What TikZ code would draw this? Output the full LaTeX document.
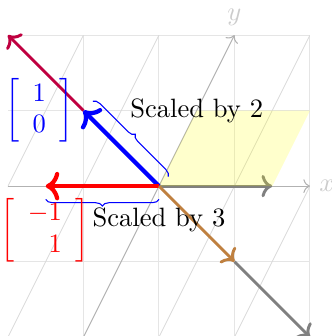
\documentclass[tikz,border=0pt]{standalone}
\usepackage{amsmath,amssymb}
\usepackage{xcolor}
\usepackage{tikz}
\usetikzlibrary{arrows.meta,decorations.pathreplacing}
\definecolor{cEigA}{HTML}{0000FF}
\definecolor{cEigB}{HTML}{FF0000}
\definecolor{cImgA}{HTML}{BF0040}
\definecolor{cImgB}{HTML}{BF8040}
\definecolor{cBase}{HTML}{808080}
\definecolor{cArea}{HTML}{FFFF00}
\tikzset{
  gridln/.style = {draw=gray!20, line width=0.4pt},
  skewln/.style = {draw=gray!30, line width=0.3pt},
  axis/.style   = {-{To}, draw=gray!60, line width=0.4pt},
  axlab/.style  = {text=gray!40},
  vec/.style    = {-{To}, draw=#1, line width=1.6pt},
  vec/.default  = cBase,
  img/.style    = {-{To}, draw=#1, line width=1.1pt},
  brc/.style    = {decorate, decoration={brace, raise=5pt}, draw=cEigA, line width=0.4pt},
  lab/.style    = {font=\normalsize, text=black},
  mat/.style    = {text=#1, inner sep=0pt},
}

\begin{document}
\begin{tikzpicture}[x=0.5cm, y=0.5cm]
  \useasboundingbox (-4.21,-3.97) rectangle (4.56,4.93);
  \coordinate (O) at (0,0);

  % grid and sheared lines
  \draw[gridln] (-4,-4) grid (4,4);
  \begin{scope}
    \clip (-4,-4) rectangle (4,4);
    \foreach \c in {-4,-2,2,4}
      \draw[skewln] (\c-2,-4) -- (\c+2,4);
  \end{scope}

  % axes
  \draw[axis] (-4,0) -- (4,0) node[axlab, right] (xl) {$x$};
  \draw[axis] (-2,-4) -- (2,4) node[axlab, above] (yl) {$y$};

  % basis vector and the shaded area
  \draw[img=cBase] (O) -- (3,0);
  \fill[cArea, fill opacity=0.2] (O) -- (3,0) -- (4,2) -- (1,2) -- cycle;

  % eigenvectors and their images
  \coordinate (a1) at (-2,2);
  \coordinate (a2) at (-4,4);
  \coordinate (b1) at (-3,0);
  \coordinate (c1) at (2,-2);
  \coordinate (c2) at (4,-4);
  \draw[img=cImgA] (a1) -- (a2);
  \draw[vec=cEigA] (O) -- (a1);
  \draw[vec=cEigB] (O) -- (b1);
  \draw[img=cBase] (c1) -- (c2);
  \draw[img=cImgB] (O) -- (c1);

  % braces and labels
  \draw[brc] (a1) -- (O);
  \draw[brc] (O) -- (b1);
  \node[lab] (s2) at (1,2) {Scaled by 2};
  \node[lab] (s3) at (0,-0.9) {Scaled by 3};
  \node[mat=cEigA] (mA) at (-3.17,2) {$\left[\begin{array}{r} 1\\ 0 \end{array}\right]$};
  \node[mat=cEigB] (mB) at (-3.02,-1.16) {$\left[\begin{array}{r} -1\\ 1 \end{array}\right]$};
\end{tikzpicture}
\end{document}
